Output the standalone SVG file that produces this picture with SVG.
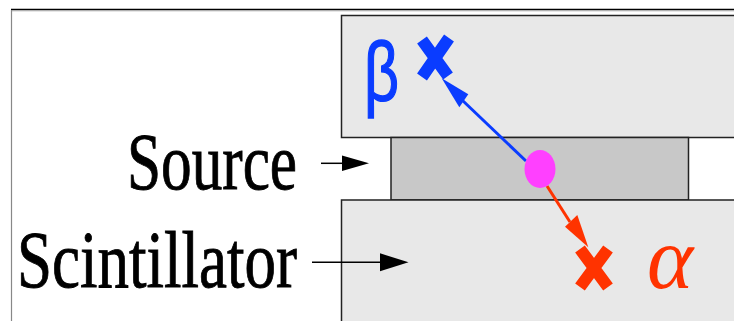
<svg xmlns="http://www.w3.org/2000/svg" width="734" height="321" viewBox="0 0 734 321">
<style>
.box{stroke:#222;stroke-width:1.5}
.lbl{font-family:"Liberation Serif","Times New Roman",serif;font-size:80px;fill:#000;stroke:#000;stroke-width:0.9}
.beta{font-family:"Liberation Sans",Arial,sans-serif;font-size:84px;stroke-width:1.4}
.alpha{font-family:"Liberation Serif","Times New Roman",serif;font-size:88px;font-style:italic}
.hit{stroke-width:12;fill:none}
</style>
<rect width="734" height="321" fill="#fff"/>
<g id="frame">
<line x1="11" y1="9.5" x2="734" y2="9.5" stroke="#000" stroke-width="1.3"/>
<line x1="11" y1="10.8" x2="734" y2="10.8" stroke="#aaa" stroke-width="1"/>
<line x1="11.5" y1="10" x2="11.5" y2="321" stroke="#888" stroke-width="1.2"/>
</g>
<g id="top-scint">
<rect class="box" x="341.5" y="15.5" width="420" height="122" fill="#e8e8e8"/>
</g>
<g id="source-box">
<rect class="box" x="391" y="137.5" width="297.5" height="62.5" fill="#c8c8c8"/>
</g>
<g id="bottom-scint">
<rect class="box" x="341.5" y="200" width="420" height="140" fill="#e8e8e8"/>
</g>
<g id="labels">
<text class="lbl" x="127" y="189" textLength="170" lengthAdjust="spacingAndGlyphs">Source</text>
<text class="lbl" x="17" y="287" textLength="280" lengthAdjust="spacingAndGlyphs">Scintillator</text>
</g>
<g id="connectors">
<line x1="321" y1="163.3" x2="345" y2="163.3" stroke="#000" stroke-width="1.5"/>
<path d="M342,155.5 L369,163.3 L342,171 Z" fill="#000"/>
<line x1="312" y1="262.3" x2="385" y2="262.3" stroke="#000" stroke-width="1.5"/>
<path d="M380,253.3 L408.5,262.3 L380,271.3 Z" fill="#000"/>
<line x1="526" y1="161" x2="461" y2="99" stroke="#0a3cff" stroke-width="3"/>
<path d="M441.7,78.3 L468.3,94.3 L459.3,107.3 Z" fill="#0a3cff"/>
<line x1="547" y1="186" x2="570" y2="222" stroke="#ff3300" stroke-width="3"/>
<path d="M588.3,247.3 L565,226.7 L577.3,215 Z" fill="#ff3300"/>
</g>
<g id="decay-point">
<ellipse cx="540" cy="169" rx="15.5" ry="19" fill="#ff40ff"/>
</g>
<g id="beta-hit">
<path class="hit" d="M422,40 L448,76 M449,38 L422,77" stroke="#0a3cff"/>
<text class="beta" x="364" y="101" fill="#0a3cff" stroke="#0a3cff" textLength="35" lengthAdjust="spacingAndGlyphs">β</text>
</g>
<g id="alpha-hit">
<path class="hit" d="M580,249 L608,287 M608,249 L580,287" stroke="#ff3300"/>
<text class="alpha" x="647" y="288" fill="#ff3300">α</text>
</g>
</svg>
